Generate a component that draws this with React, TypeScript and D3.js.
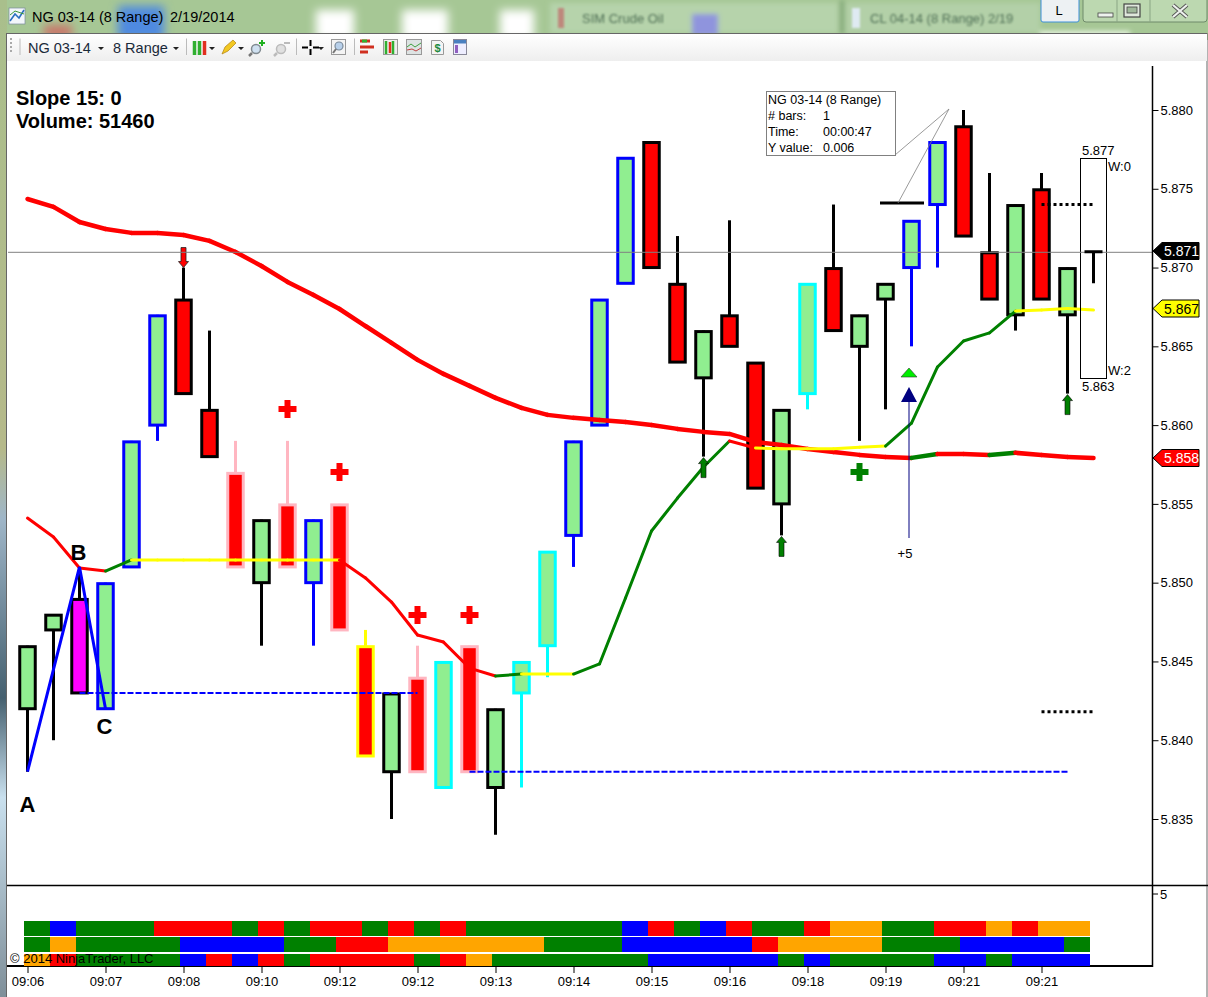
import * as d3 from "d3";
import { useEffect, useRef } from "react";

const WIDTH = 1208;
const HEIGHT = 997;

// candle bodies and wicks, prices
const bodyTop = [5.846, 5.848, 5.849, 5.85, 5.859, 5.867, 5.868, 5.861, 5.857, 5.854, 5.855, 5.854, 5.855, 5.846, 5.843, 5.844, 5.845, 5.846, 5.842, 5.845, 5.852, 5.859, 5.868, 5.877, 5.878, 5.869, 5.866, 5.867, 5.864, 5.861, 5.869, 5.87, 5.867, 5.869, 5.873, 5.878, 5.879, 5.871, 5.874, 5.875, 5.87];
const bodyBottom = [5.842, 5.847, 5.843, 5.842, 5.851, 5.86, 5.862, 5.858, 5.851, 5.85, 5.851, 5.85, 5.847, 5.839, 5.838, 5.838, 5.837, 5.838, 5.837, 5.843, 5.846, 5.853, 5.86, 5.869, 5.87, 5.864, 5.863, 5.865, 5.856, 5.855, 5.862, 5.866, 5.865, 5.868, 5.87, 5.874, 5.872, 5.868, 5.867, 5.868, 5.867];
const wickTop = [5.846, 5.848, 5.851, 5.85, 5.859, 5.867, 5.87, 5.866, 5.859, 5.854, 5.859, 5.854, 5.855, 5.847, 5.843, 5.846, 5.845, 5.846, 5.842, 5.845, 5.852, 5.859, 5.868, 5.877, 5.878, 5.872, 5.866, 5.873, 5.864, 5.861, 5.869, 5.874, 5.867, 5.869, 5.873, 5.878, 5.88, 5.876, 5.874, 5.876, 5.87];
const wickBottom = [5.838, 5.84, 5.843, 5.842, 5.851, 5.859, 5.862, 5.858, 5.851, 5.846, 5.851, 5.846, 5.847, 5.839, 5.835, 5.838, 5.837, 5.838, 5.834, 5.837, 5.844, 5.851, 5.86, 5.869, 5.87, 5.864, 5.858, 5.865, 5.856, 5.853, 5.861, 5.866, 5.859, 5.861, 5.865, 5.87, 5.872, 5.868, 5.866, 5.868, 5.862];
const bodyFills = "ggmgggrrrgrgrrgrgrggggggrrgrrggrggggrrgrg".split("");
const bodyBorders = "kkkbbbkkpkpbpykpcpkccbbbkkkkkkckkkbbkkkkk".split("");

const fillColors: Record<string, string> = { g: "#90ee90", r: "#ff0000", m: "#ff00ff" };
const borderColors: Record<string, string> = { k: "#000000", b: "#0000ff", p: "#ffb6c1", y: "#ffff00", c: "#00ffff" };

// slow average (thick) and fast average (thin), one value per bar
const slowAverage = [5.87435, 5.87385, 5.87289, 5.87245, 5.8722, 5.8722, 5.87207, 5.87169, 5.87099, 5.8701, 5.86909, 5.86826, 5.86737, 5.86629, 5.86522, 5.86414, 5.86325, 5.86249, 5.86173, 5.86109, 5.86065, 5.86046, 5.86033, 5.8602, 5.86001, 5.85976, 5.85957, 5.85944, 5.85893, 5.85874, 5.85849, 5.8583, 5.85811, 5.85798, 5.85792, 5.85817, 5.85817, 5.85811, 5.85824, 5.85811, 5.85798, 5.85792];
const fastAverage = [5.8541, 5.8529, 5.85093, 5.85074, 5.85144, 5.85144, 5.85144, 5.85144, 5.85144, 5.85144, 5.85144, 5.85144, 5.85144, 5.8503, 5.84877, 5.84668, 5.84623, 5.84458, 5.84408, 5.8442, 5.8442, 5.8442, 5.84484, 5.84903, 5.85328, 5.85537, 5.85734, 5.85899, 5.85855, 5.8585, 5.8585, 5.8585, 5.8586, 5.85867, 5.86013, 5.86369, 5.86534, 5.86585, 5.86724, 5.8673, 5.8674, 5.8673];
const slowColors = slowAverage.slice(1).map((_, i) => (i === 34 || i === 37 ? "#008000" : "#ff0000"));
const fastColors = "rrrgyyyyyyyyrrrrrrgyygggggGryyyyyggggg".split("").concat(["y", "y", "y"]);

const timeLabels = ["09:06", "09:07", "09:08", "09:10", "09:12", "09:12", "09:13", "09:14", "09:15", "09:16", "09:18", "09:19", "09:21", "09:21"];
const priceTicks = [5.835, 5.84, 5.845, 5.85, 5.855, 5.86, 5.865, 5.87, 5.875, 5.88];

const redPlus = [[10, 5.86102], [12, 5.85702], [15, 5.84795], [17, 5.84795]];
const greenPlus = [[32, 5.85702]];
const upArrows = [[26, 5.858], [29, 5.853], [40, 5.862]];

// lower panel, runs of [colour key, bar count]
const panelRowA: [string, number][] = [["g", 1], ["b", 1], ["g", 3], ["r", 3], ["g", 1], ["r", 1], ["g", 1], ["r", 2], ["g", 1], ["r", 1], ["g", 1], ["r", 1], ["g", 6], ["b", 1], ["r", 1], ["g", 1], ["b", 1], ["r", 1], ["g", 2], ["r", 1], ["o", 2], ["g", 2], ["r", 2], ["o", 1], ["r", 1], ["o", 2]];
const panelRowB: [string, number][] = [["g", 1], ["o", 1], ["g", 4], ["b", 4], ["g", 2], ["r", 2], ["o", 6], ["g", 3], ["b", 5], ["r", 1], ["o", 4], ["g", 3], ["b", 4], ["g", 1]];
const panelRowC: [string, number][] = [["o", 1], ["r", 1], ["g", 4], ["b", 1], ["r", 1], ["b", 1], ["r", 1], ["g", 1], ["r", 4], ["g", 1], ["r", 1], ["o", 1], ["g", 6], ["b", 5], ["g", 1], ["b", 1], ["g", 4], ["b", 2], ["g", 1], ["b", 3]];
const panelColors: Record<string, string> = { g: "#008000", b: "#0000ff", r: "#ff0000", o: "#ffa500" };

const x = d3.scaleLinear().domain([0, 41]).range([27.5, 1093.5]);
const y = d3.scaleLinear().domain([5.835, 5.88]).range([819, 110]);
const panelX = d3.scaleLinear().domain([0, 41]).range([24, 1090]);
const lineGen = d3.line<[number, number]>().x(d => x(d[0])).y(d => y(d[1]));

const fastHex = (c: string) => (c === "r" ? "#ff0000" : c === "y" ? "#ffff00" : "#008000");

function Flag({ value, fill, text, yPos }: { value: string; fill: string; text: string; yPos: number }) {
    const pts = [[1153, yPos], [1162, yPos - 8.5], [1199, yPos - 8.5], [1199, yPos + 8.5], [1162, yPos + 8.5]];
    return (
        <g>
            <polygon points={pts.join(" ")} fill={fill} stroke="#000" strokeWidth={1} />
            <text x={1164} y={yPos + 5} fontSize={14} fill={text}>{value}</text>
        </g>
    );
}

function Plus({ cx, cy, color }: { cx: number; cy: number; color: string }) {
    return <path d={`M${cx - 9} ${cy}H${cx + 9}M${cx} ${cy - 9}V${cy + 9}`} stroke={color} strokeWidth={6} fill="none" />;
}

function Chrome() {
    return (
        <g>
            <defs>
                <filter id="blurWide" x="-50%" y="-50%" width="200%" height="200%"><feGaussianBlur stdDeviation="5" /></filter>
                <filter id="blurTab" x="-10%" y="-30%" width="120%" height="160%"><feGaussianBlur stdDeviation="2.5" /></filter>
                <filter id="blurText"><feGaussianBlur stdDeviation="1.2" /></filter>
                <linearGradient id="bar" x1="0" y1="0" x2="0" y2="1">
                    <stop offset="0" stopColor="#ffffff" />
                    <stop offset="1" stopColor="#eeeeee" />
                </linearGradient>
                <linearGradient id="edge" x1="0" y1="0" x2="0" y2="1">
                    <stop offset="0" stopColor="#a9bf8c" />
                    <stop offset="0.45" stopColor="#b5b98a" />
                    <stop offset="0.52" stopColor="#9fb6c8" />
                    <stop offset="0.7" stopColor="#45606f" />
                    <stop offset="0.8" stopColor="#c9e0ee" />
                    <stop offset="1" stopColor="#7f8f99" />
                </linearGradient>
            </defs>
            <rect x={0} y={0} width={WIDTH} height={40} fill="#a6c795" />
            <g filter="url(#blurWide)">
                <rect x={118} y={6} width={46} height={34} fill="#4f8ae0" />
                <rect x={44} y={25} width={28} height={14} fill="#c9776a" />
                <rect x={316} y={10} width={38} height={30} fill="#ffffff" />
                <rect x={402} y={10} width={46} height={30} fill="#ffffff" />
                <rect x={500} y={10} width={34} height={30} fill="#ffffff" />
            </g>
            <g filter="url(#blurTab)">
                <rect x={550} y={3} width={288} height={30} fill="#b6d3ab" />
                <rect x={846} y={3} width={194} height={30} fill="#b3d0a8" />
                <rect x={840} y={0} width={4} height={34} fill="#7fa576" />
                <rect x={692} y={14} width={26} height={22} fill="#8f94dd" />
                <rect x={1040} y={31} width={90} height={6} fill="#e6f3e0" />
            </g>
            <g filter="url(#blurText)">
                <text x={582} y={23} fontSize={13} fill="#4f6f55">SIM Crude Oil</text>
                <text x={870} y={23} fontSize={13} fill="#4f6f55">CL 04-14 (8 Range)  2/19</text>
                <rect x={558} y={8} width={6} height={20} fill="#c26a6a" opacity={0.7} />
                <rect x={852} y={8} width={8} height={20} fill="#dfeaf2" />
            </g>
            <rect x={0} y={0} width={7} height={HEIGHT} fill="url(#edge)" />

            {/* title */}
            <rect x={9} y={8} width={16} height={16} fill="#f2f6fa" stroke="#7a8a9a" strokeWidth={0.7} />
            <path d="M10 21L15 14L19 18L24 10" stroke="#2a6fc0" strokeWidth={1.6} fill="none" />
            <path d="M10 15L15 11L24 14" stroke="#3c9a3c" strokeWidth={1} fill="none" />
            <text x={32} y={22} fontSize={14.5} fill="#000">NG 03-14 (8 Range)</text>
            <text x={170} y={22} fontSize={14.5} fill="#000">2/19/2014</text>

            {/* L button and window controls */}
            <rect x={1041} y={-2} width={38} height={24} rx={2} fill="#edf1f3" stroke="#3c8fd8" strokeWidth={1} />
            <text x={1059} y={15} fontSize={13} textAnchor="middle" fill="#000">L</text>
            <rect x={1083} y={-3} width={124} height={25} rx={3} fill="#bcd8b0" stroke="#6f8a6a" strokeWidth={1} />
            <path d="M1117 0V22M1150 0V22" stroke="#8aa584" strokeWidth={1} />
            <rect x={1098} y={13} width={15} height={4} fill="#eef3ee" stroke="#444" strokeWidth={0.8} />
            <rect x={1124} y={4} width={16} height={13} fill="#dfe8dc" stroke="#444" strokeWidth={1.2} />
            <rect x={1127} y={7} width={10} height={6} fill="#9fb89a" stroke="#444" strokeWidth={0.8} />
            <path d="M1173 5L1187 17M1187 5L1173 17" stroke="#555" strokeWidth={4} />
            <path d="M1173 5L1187 17M1187 5L1173 17" stroke="#eef2ee" strokeWidth={2.2} />

            {/* window and toolbar */}
            <rect x={6.5} y={33.5} width={1200.5} height={HEIGHT} fill="#ffffff" stroke="#666" strokeWidth={1} />
            <rect x={7} y={34} width={1200} height={27} fill="url(#bar)" />
            <path d="M11 38V52" stroke="#aaa" strokeWidth={2} strokeDasharray="2 2" />
            <path d="M20 38.5V55M186.5 38.5V55M296.5 38.5V55M354.5 38.5V55" stroke="#bbb" strokeWidth={1} />
            <text x={28} y={53} fontSize={14.5} fill="#1a2a3a">NG 03-14</text>
            <text x={113} y={53} fontSize={14.5} fill="#1a2a3a">8 Range</text>
            <path d="M98 47h6l-3 3zM173 47h6l-3 3zM209 47h6l-3 3zM238 47h6l-3 3zM318 47h6l-3 3z" fill="#222" />
            <path d="M194.5 41V55M199.5 41V55" stroke="#30b030" strokeWidth={3.5} />
            <path d="M204.5 41V55" stroke="#e03020" strokeWidth={3.5} />
            <path d="M222 54L225 47L233 40L236 43L228 51Z" fill="#f2c822" stroke="#b08010" strokeWidth={0.7} />
            <circle cx={256} cy={49} r={4.5} fill="#cfe0f0" stroke="#808a90" strokeWidth={1.5} />
            <path d="M252 53L249 56" stroke="#777" strokeWidth={2.5} />
            <path d="M259 43h6M262 40v6" stroke="#20b020" strokeWidth={2} />
            <circle cx={281} cy={49} r={4.5} fill="#e0e0e0" stroke="#bbb" strokeWidth={1.5} />
            <path d="M277 53L274 56" stroke="#bbb" strokeWidth={2.5} />
            <path d="M284 43h6" stroke="#bbb" strokeWidth={2} />
            <path d="M302 47.5h6M313 47.5h6M310.5 40v6M310.5 49v6" stroke="#000" strokeWidth={2} />
            <rect x={331.5} y={39.5} width={14} height={15} fill="#f4f4f4" stroke="#999" />
            <circle cx={339} cy={46} r={4} fill="#b8d0ea" stroke="#7a8a9a" strokeWidth={1.2} />
            <path d="M336 49L333 53" stroke="#777" strokeWidth={2} />
            <path d="M360 41h10M360 47h14M360 52h8" stroke="#d03020" strokeWidth={3} />
            <path d="M362 41h5" stroke="#30b030" strokeWidth={3} />
            <rect x={383.5} y={39.5} width={14} height={15} fill="#eee" stroke="#999" />
            <path d="M386 41V54M393 41V54" stroke="#30b030" strokeWidth={2.5} />
            <path d="M390 42V53" stroke="#e03020" strokeWidth={2.5} />
            <rect x={406.5} y={39.5} width={15} height={15} fill="#dde3e3" stroke="#999" />
            <path d="M407 47L411 44L415 47L421 43" stroke="#40a040" fill="none" />
            <path d="M407 50L412 49L416 51L421 48" stroke="#c04040" fill="none" />
            <path d="M431.5 40.5h9l3 3v11h-12z" fill="#f4f4f4" stroke="#999" />
            <text x={437.5} y={52} fontSize={11} fontWeight="bold" textAnchor="middle" fill="#208a40">$</text>
            <rect x={453.5} y={39.5} width={13} height={15} fill="#eef" stroke="#889" />
            <rect x={454} y={40} width={12} height={3.5} fill="#4a80c0" />
            <rect x={455} y={45} width={3} height={8} fill="#9060c0" />
        </g>
    );
}

function App() {
    const priceAxisRef = useRef<SVGGElement>(null);
    const timeAxisRef = useRef<SVGGElement>(null);

    useEffect(() => {
        const priceAxis = d3.axisRight(y).tickValues(priceTicks).tickFormat(d3.format(".3f") as any).tickSize(6).tickPadding(2);
        const timeAxis = d3.axisBottom(x).tickValues(timeLabels.map((_, i) => i * 3)).tickFormat((_, i) => timeLabels[i]).tickSize(7).tickPadding(4);
        for (const [node, axis] of [[priceAxisRef.current, priceAxis], [timeAxisRef.current, timeAxis]] as any[]) {
            const g = d3.select(node).call(axis);
            g.select(".domain").remove();
            g.selectAll("line").attr("stroke", "#000");
            g.selectAll("text").attr("fill", "#000").style("font-size", "13px").style("font-family", "'Liberation Sans'");
        }
    }, []);

    const panelRows = [panelRowA, panelRowB, panelRowC];
    const panelTops = [921, 937, 954];
    const panelHeights = [15, 15, 12];

    return (
        <svg width={WIDTH} height={HEIGHT} style={{ position: "absolute", left: 0, top: 0, display: "block" }} fontFamily="'Liberation Sans', Arial, sans-serif">
            <Chrome />

            <text x={16} y={105} fontSize={20} fontWeight="bold">Slope 15: 0</text>
            <text x={16} y={128} fontSize={20} fontWeight="bold">Volume: 51460</text>

            {/* wicks then bodies */}
            {bodyTop.map((_, i) => (
                <line key={"w" + i} x1={x(i)} x2={x(i)} y1={y(wickTop[i])} y2={y(wickBottom[i])} stroke={borderColors[bodyBorders[i]]} strokeWidth={3} />
            ))}
            {bodyTop.map((top, i) => (
                <rect key={"b" + i} x={x(i) - 7.75} width={15.5} y={y(top) + 1} height={y(bodyBottom[i]) - y(top) - 1}
                    fill={fillColors[bodyFills[i]]} stroke={borderColors[bodyBorders[i]]} strokeWidth={3} />
            ))}

            <path d={`M880 ${y(5.8741)}H924`} stroke="#000" strokeWidth={3} />
            <path d={`M${x(39)} ${y(5.874)}H${x(41)}M${x(39)} ${y(5.8418)}H${x(41)}`} stroke="#000" strokeWidth={3} strokeDasharray="3 3" />

            {/* averages */}
            {slowColors.map((c, i) => (
                <path key={"s" + i} d={lineGen([[i, slowAverage[i]], [i + 1, slowAverage[i + 1]]]) ?? ""} stroke={c} strokeWidth={4.5} fill="none" strokeLinecap="round" />
            ))}
            {fastColors.map((c, i) => (
                <path key={"f" + i} d={lineGen([[i, fastAverage[i]], [i + 1, fastAverage[i + 1]]]) ?? ""} stroke={fastHex(c)} strokeWidth={3} fill="none" strokeLinecap="round" />
            ))}

            {/* A B C swing and its levels */}
            <path d={lineGen([[0, 5.838], [2, 5.851], [3, 5.842]]) ?? ""} stroke="#0000ff" strokeWidth={3} fill="none" />
            <path d={`M${x(2)} ${y(5.843)}H${x(15)}M${x(17)} ${y(5.838)}H${x(40)}`} stroke="#0000ff" strokeWidth={2} strokeDasharray="6 2" fill="none" />
            <text x={x(0)} y={812} fontSize={22} fontWeight="bold" textAnchor="middle">A</text>
            <text x={x(2) - 1} y={560} fontSize={22} fontWeight="bold" textAnchor="middle">B</text>
            <text x={x(3) - 1} y={734} fontSize={22} fontWeight="bold" textAnchor="middle">C</text>

            {/* signals */}
            {redPlus.map(([b, p], i) => <Plus key={"rp" + i} cx={x(b)} cy={y(p)} color="#ff0000" />)}
            {greenPlus.map(([b, p], i) => <Plus key={"gp" + i} cx={x(b)} cy={y(p)} color="#008000" />)}
            {upArrows.map(([b, p], i) => (
                <polygon key={"a" + i} transform={`translate(${x(b)},${y(p) + 1})`} points="0,0 5,6 2.5,6 2.5,20 -2.5,20 -2.5,6 -5,6"
                    fill="#008000" stroke="#000" strokeWidth={0.6} />
            ))}
            <polygon transform={`translate(${x(6)},${y(5.87)})`} points="0,0 5,-6 2.5,-6 2.5,-20 -2.5,-20 -2.5,-6 -5,-6" fill="#ff0000" stroke="#222" strokeWidth={0.8} />
            <polygon points="901,377 909,368 917,377" fill="#00ee00" stroke="#333" strokeWidth={0.6} />
            <polygon points="901,402 909,387 917,402" fill="#000080" />
            <line x1={909} x2={909} y1={400} y2={538} stroke="#000080" strokeWidth={1} />
            <text x={905} y={558} fontSize={13} textAnchor="middle">+5</text>

            {/* range box */}
            <rect x={1080.5} y={158.5} width={26} height={220} fill="none" stroke="#000" strokeWidth={1} />
            <text x={1082} y={155} fontSize={13}>5.877</text>
            <text x={1108} y={171} fontSize={13}>W:0</text>
            <text x={1108} y={375} fontSize={13}>W:2</text>
            <text x={1082} y={391} fontSize={13}>5.863</text>

            {/* measure tool */}
            <path d="M895 155L949 109L898 203" stroke="#808080" strokeWidth={0.8} fill="none" />
            <rect x={766.5} y={91.5} width={129} height={64} fill="#fff" stroke="#808080" />
            <text x={768} y={104} fontSize={12.5}>NG 03-14 (8 Range)</text>
            <text x={768} y={120} fontSize={12.5}># bars:</text>
            <text x={823} y={120} fontSize={12.5}>1</text>
            <text x={768} y={136} fontSize={12.5}>Time:</text>
            <text x={823} y={136} fontSize={12.5}>00:00:47</text>
            <text x={768} y={152} fontSize={12.5}>Y value:</text>
            <text x={823} y={152} fontSize={12.5}>0.006</text>

            {/* current price line and axes */}
            <line x1={8} x2={1152} y1={y(5.871) + 0.5} y2={y(5.871) + 0.5} stroke="#808080" strokeWidth={1} />
            {/* still forming bar */}
            <path d={`M${x(41) - 9} ${y(5.871)}H${x(41) + 9}M${x(41)} ${y(5.871)}V${y(5.869)}`} stroke="#000" strokeWidth={3} fill="none" />
            <line x1={1152.5} x2={1152.5} y1={66} y2={967} stroke="#000" strokeWidth={1.5} />
            <line x1={7} x2={1208} y1={885.5} y2={885.5} stroke="#000" strokeWidth={1.5} />
            <line x1={7} x2={1153} y1={966} y2={966} stroke="#000" strokeWidth={2} />
            <g ref={priceAxisRef} transform="translate(1152.5,0)" />
            <g ref={timeAxisRef} transform="translate(0,966)" />
            <line x1={1152} x2={1158} y1={894} y2={894} stroke="#000" />
            <text x={1160} y={899} fontSize={13}>5</text>

            <Flag value="5.871" fill="#000" text="#fff" yPos={251} />
            <Flag value="5.867" fill="#ffff00" text="#000" yPos={308.5} />
            <Flag value="5.858" fill="#ff0000" text="#fff" yPos={458} />

            {/* lower panel */}
            {panelRows.map((row, r) => {
                let start = 0;
                return row.map(([key, n], k) => {
                    const cell = (
                        <rect key={r + "-" + k} x={panelX(start)} width={panelX(n) - panelX(0)} y={panelTops[r]} height={panelHeights[r]} fill={panelColors[key]} />
                    );
                    start += n;
                    return cell;
                });
            })}
            <text x={10} y={963} fontSize={13}>© 2014 NinjaTrader, LLC</text>
        </svg>
    );
}

export default App;
